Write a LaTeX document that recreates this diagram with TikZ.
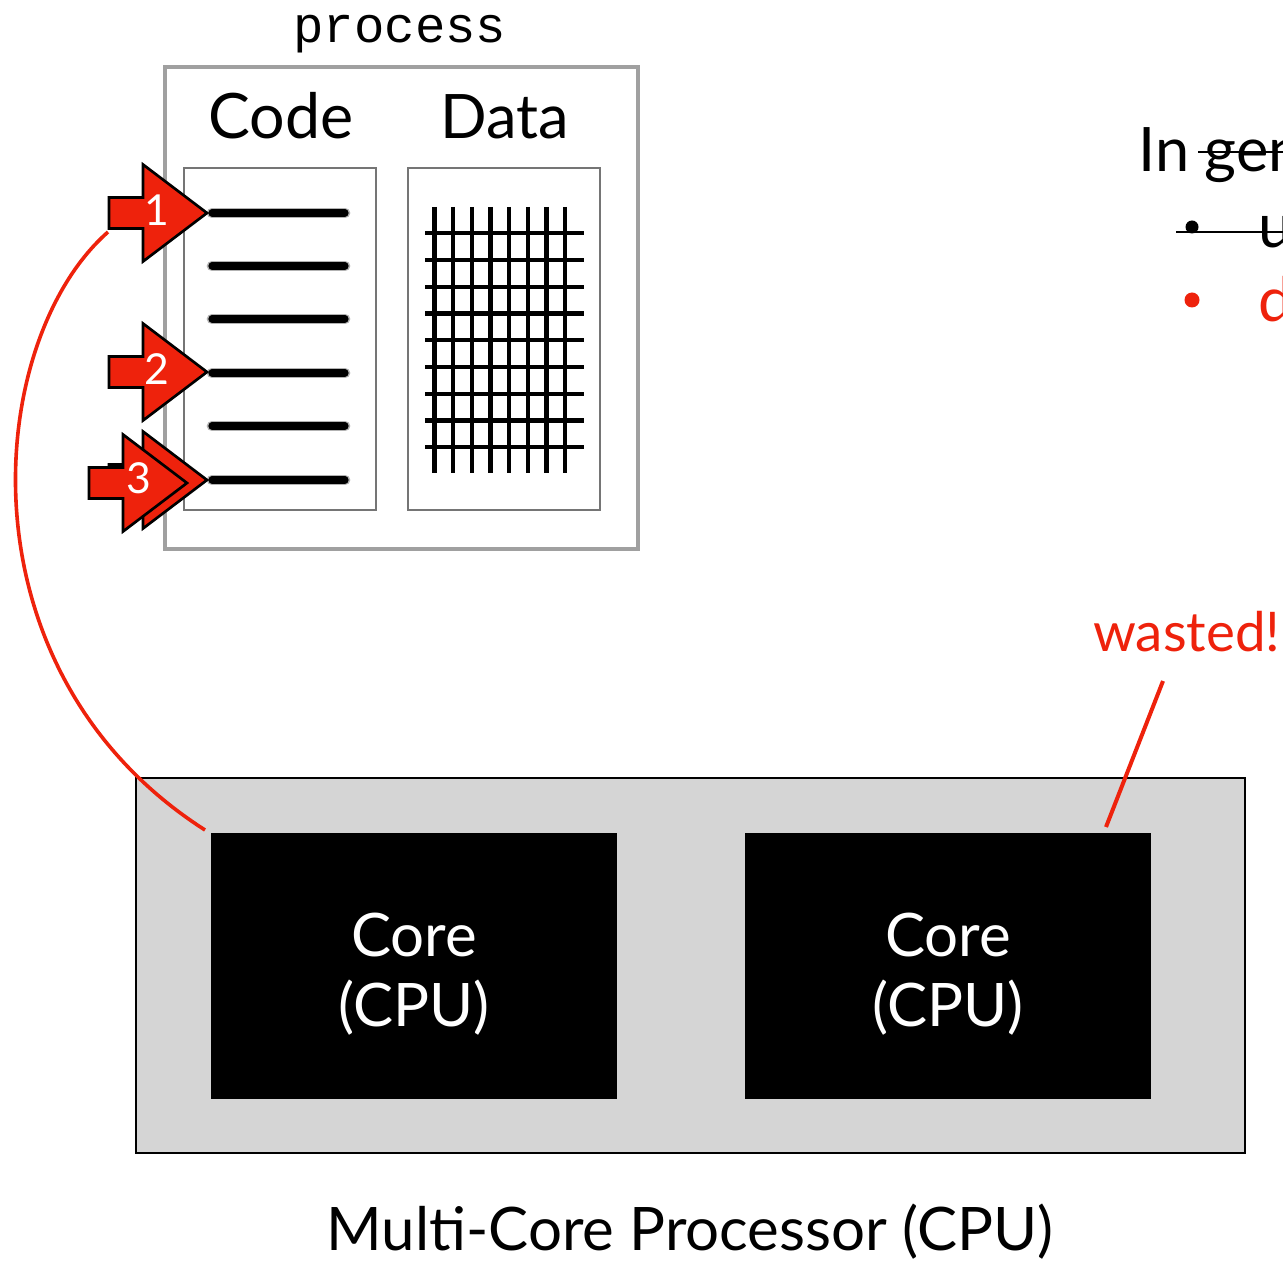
\documentclass[tikz,border=0pt]{standalone}
\usepackage{fontspec}
\setmainfont{Lato}
\setmonofont{Liberation Mono}
\definecolor{kred}{HTML}{EE220C}
\definecolor{boxgray}{HTML}{A0A0A0}
\definecolor{innergray}{HTML}{757575}
\definecolor{chipgray}{HTML}{D5D5D5}
\begin{document}
\begin{tikzpicture}[x=0.75pt,y=-0.75pt,
  arrowst/.style={fill=kred,draw=black,line width=2pt,line join=miter},
  codeline/.style={line width=5.4pt,black,line cap=round},
  gridline/.style={line width=3.3pt,black},
  blockarr/.pic={\draw[arrowst] (-98,-15.5) -- (-64,-15.5) -- (-64,-48.5) -- (0,0) -- (-64,48.5) -- (-64,15.5) -- (-98,15.5) -- cycle;},
  lbl/.style={inner sep=0pt,anchor=base},
  core/.style={fill=black,draw=none,minimum width=406*0.75pt,minimum height=266*0.75pt,inner sep=0pt}
]
\clip (0,0) rectangle (1283,1262);
\fill[white] (0,0) rectangle (1283,1262);

% process box
\node[lbl,font=\ttfamily\fontsize{38}{40}\selectfont] (proc) at (400,43) {process};
\draw[boxgray,line width=3pt] (165,67) rectangle (638,549);
\node[lbl,font=\fontsize{47}{56}\selectfont] (codet) at (281,139) {Code};
\node[lbl,font=\fontsize{46}{56}\selectfont] (datat) at (505,139) {Data};
\draw[innergray,line width=1.6pt] (184,168) rectangle (376,510);
\draw[innergray,line width=1.6pt] (408,168) rectangle (600,510);

% code lines
\foreach \y in {213,266,319,373,426,480}{
  \draw[line width=8pt,black!30,line cap=round] (212,\y) -- (345,\y);
  \draw[codeline] (212,\y) -- (345,\y);
}

% data grid
\foreach \i in {0,...,7}{
  \draw[gridline] ({434.3+18.7*\i},207) -- ({434.3+18.7*\i},473);
}
\foreach \j in {0,...,8}{
  \draw[gridline] (425,{233.3+26.75*\j}) -- (584,{233.3+26.75*\j});
}

% arrows
\pic at (207,213) {blockarr};
\node[lbl,white,font=\fontsize{32}{36}\selectfont] (n1) at (157,226) {1};
\pic at (207,372) {blockarr};
\node[lbl,white,font=\fontsize{32}{36}\selectfont] (n2) at (157,385) {2};
\pic at (207,480) {blockarr};
\pic at (187,483) {blockarr};
\node[lbl,white,font=\fontsize{32}{36}\selectfont] (n3) at (139,494) {3};

% chip
\draw[fill=chipgray,draw=black,line width=1.5pt] (136,778) rectangle (1245,1153);
\node[core] (core1) at (414,966) {};
\node[core] (core2) at (948,966) {};
\node[white,align=center,font=\fontsize{45}{53}\selectfont] (c1t) at (414,974) {Core\\(CPU)};
\node[white,align=center,font=\fontsize{45}{53}\selectfont] (c2t) at (948,974) {Core\\(CPU)};
\node[lbl,font=\fontsize{45}{54}\selectfont] (chipt) at (690,1250) {Multi-Core Processor (CPU)};

% red curve from core1 to arrow 1
\coordinate (cstart) at (205,830);
\coordinate (cend) at (108,232);
\draw[kred,line width=2.7pt] (cstart) .. controls (-45,670) and (-15,340) .. (cend);

% wasted
\node[lbl,anchor=base west,kred,font=\fontsize{41}{50}\selectfont] (wasted) at (1093,652) {wasted!};
\coordinate (w1) at (1163,681);
\coordinate (w2) at (1106,827);
\draw[kred,line width=3pt] (w1) -- (w2);

% right text
\node[lbl,anchor=base west,font=\fontsize{46}{54}\selectfont] (intext) at (1138,172) {In gen};
\draw[black,line width=2.2pt] (1198,152) -- (1290,152);
\fill[black] (1192,227) circle (6.5);
\draw[black,line width=2pt] (1176,232) -- (1290,232);
\node[lbl,anchor=base west,font=\fontsize{46}{54}\selectfont] (ut) at (1258,248) {u};
\fill[kred] (1192,300) circle (7.5);
\node[lbl,anchor=base west,kred,font=\fontsize{46}{54}\selectfont] (dt) at (1258,322) {d};
\end{tikzpicture}
\end{document}
